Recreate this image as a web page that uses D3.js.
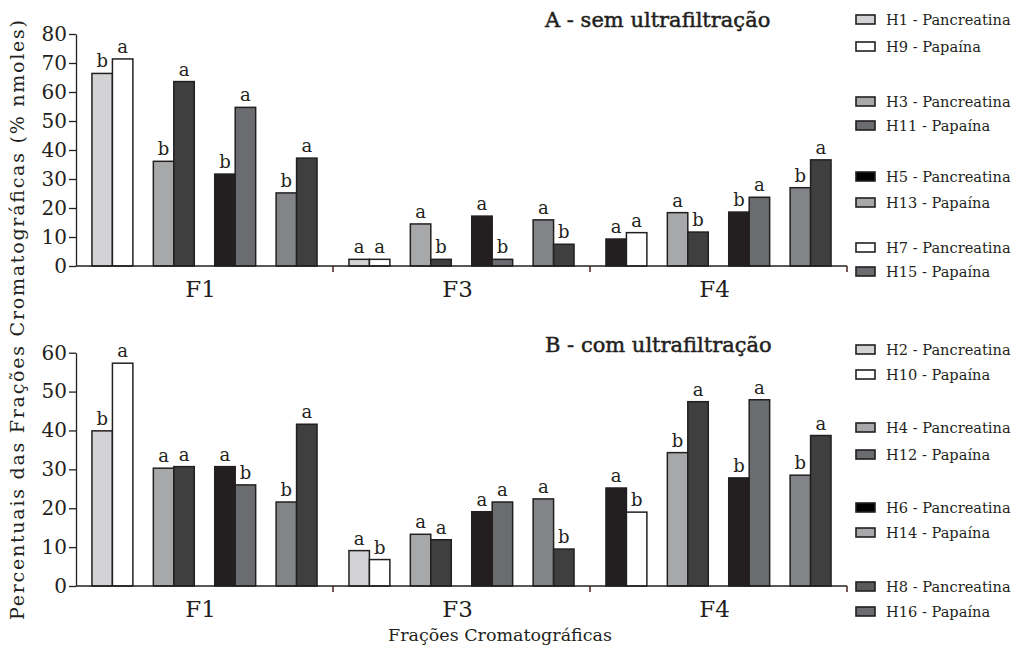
<!DOCTYPE html>
<html>
<head>
<meta charset="utf-8">
<script src="https://cdn.jsdelivr.net/npm/d3@7"></script>
<style>
  body { margin: 0; background: #fff; }
  svg text { font-family: "DejaVu Serif", serif; fill: #231f20; }
</style>
</head>
<body>
<div id="container"></div>
<script>
// width and height
var width = 1011;
var height = 651;

// categories
var fractions = ["F1", "F3", "F4"];

// panel A - sem ultrafiltracao (pairs in order F1 x4, F3 x4, F4 x4)
var aPancreatina = [66.4, 36.1, 31.7, 25.2, 2.3, 14.5, 17.2, 15.9, 9.3, 18.4, 18.6, 27.0];
var aPapaina     = [71.4, 63.6, 54.7, 37.2, 2.3, 2.3, 2.3, 7.5, 11.5, 11.7, 23.7, 36.6];
var aLetPanc     = ["b","b","b","b", "a","a","a","a", "a","a","b","b"];
var aLetPap      = ["a","a","a","a", "a","b","b","b", "a","b","a","a"];

// panel B - com ultrafiltracao
var bPancreatina = [39.9, 30.3, 30.7, 21.6, 9.1, 13.3, 19.1, 22.4, 25.2, 34.3, 27.8, 28.5];
var bPapaina     = [57.3, 30.7, 26.0, 41.6, 6.8, 11.9, 21.6, 9.5, 19.0, 47.4, 47.9, 38.7];
var bLetPanc     = ["b","a","a","b", "a","a","a","a", "a","b","b","b"];
var bLetPap      = ["a","a","b","a", "b","a","a","b", "b","a","a","a"];

// tick labels
var aTicks = [0, 10, 20, 30, 40, 50, 60, 70, 80];
var bTicks = [0, 10, 20, 30, 40, 50, 60];

// legend labels
var aLegend = ["H1 - Pancreatina", "H9 - Papaína", "H3 - Pancreatina", "H11 - Papaína",
               "H5 - Pancreatina", "H13 - Papaína", "H7 - Pancreatina", "H15 - Papaína"];
var bLegend = ["H2 - Pancreatina", "H10 - Papaína", "H4 - Pancreatina", "H12 - Papaína",
               "H6 - Pancreatina", "H14 - Papaína", "H8 - Pancreatina", "H16 - Papaína"];

// bar colours (pancreatina, papaina) per pair position
var pancColors = ["#d3d3d5", "#a7a8aa", "#231f20", "#838487"];
var papColors  = ["#ffffff", "#3f3f40", "#6b6c6f", "#3f3f40"];
var aLegendColors = ["#d3d3d5", "#ffffff", "#a7a8aa", "#6b6c6f", "#000000", "#a7a8aa", "#ffffff", "#6b6c6f"];
var bLegendColors = ["#d3d3d5", "#ffffff", "#a7a8aa", "#6b6c6f", "#000000", "#a7a8aa", "#5a5a5c", "#6b6c6f"];

var svg = d3.select("#container")
            .append("svg")
            .attr("width", width)
            .attr("height", height);

// shared x scales
var x0 = d3.scaleBand()
           .domain(fractions)
           .range([76, 847]);
var x1 = d3.scaleBand()
           .domain([0, 1, 2, 3])
           .range([0, x0.bandwidth()])
           .paddingInner(1/3)
           .paddingOuter(0.26);

function makePanel(opts){
  var y = d3.scaleLinear()
            .domain([0, opts.max])
            .range([opts.bottom, opts.top]);

  var bars = [];
  opts.panc.forEach(function(v, i){
    var g = fractions[Math.floor(i / 4)], p = i % 4;
    // F4 first pair pancreatina drawn black in the original
    var pc = (g === "F4" && p === 0) ? "#231f20" : pancColors[p];
    bars.push({g: g, p: p, k: 0, v: v, l: opts.letPanc[i], c: pc});
    bars.push({g: g, p: p, k: 1, v: opts.pap[i], l: opts.letPap[i], c: papColors[p]});
  });

  var bw = x1.bandwidth() / 2;
  function bx(d){ return x0(d.g) + x1(d.p) + d.k * bw; }

  svg.append("g").selectAll("rect")
     .data(bars)
     .enter().append("rect")
     .attr("x", bx)
     .attr("y", function(d){ return y(d.v); })
     .attr("width", bw)
     .attr("height", function(d){ return y(0) - y(d.v); })
     .attr("fill", function(d){ return d.c; })
     .attr("stroke", "#231f20")
     .attr("stroke-width", 1.5);

  svg.append("g").selectAll("text")
     .data(bars)
     .enter().append("text")
     .attr("x", function(d){ return bx(d) + bw / 2; })
     .attr("y", function(d){ return y(d.v) - 6; })
     .attr("text-anchor", "middle")
     .style("font-size", "18px")
     .text(function(d){ return d.l; });

  // y axis
  var yAxis = svg.append("g")
     .attr("transform", "translate(76,0)")
     .call(d3.axisLeft(y).tickValues(opts.ticks).tickSize(7).tickPadding(2).tickSizeOuter(0));
  yAxis.selectAll("text").style("font-size", "20px").attr("fill", "#231f20");
  yAxis.selectAll("line,path").attr("stroke", "#231f20").attr("stroke-width", 1.3);

  // x axis line with boundary ticks
  svg.append("line")
     .attr("x1", 76).attr("x2", 847)
     .attr("y1", y(0)).attr("y2", y(0))
     .attr("stroke", "#231f20").attr("stroke-width", 1.5);
  svg.append("g").selectAll("line")
     .data(fractions)
     .enter().append("line")
     .attr("x1", function(d){ return x0(d) + x0.bandwidth(); })
     .attr("x2", function(d){ return x0(d) + x0.bandwidth(); })
     .attr("y1", y(0)).attr("y2", y(0) + 6)
     .attr("stroke", "#4a1f1f").attr("stroke-width", 1.5);

  svg.append("g").selectAll("text")
     .data(fractions)
     .enter().append("text")
     .attr("x", function(d){ return x0(d) + x0.bandwidth() / 2 - 4; })
     .attr("y", y(0) + 31)
     .attr("text-anchor", "middle")
     .style("font-size", "23px")
     .text(function(d){ return d; });

  // title
  svg.append("text")
     .attr("x", 545)
     .attr("y", opts.titleY)
     .style("font-size", "21px")
     .style("stroke", "#231f20")
     .style("stroke-width", 0.5)
     .text(opts.title);

  // legend
  var leg = svg.append("g").selectAll("g")
     .data(opts.legend)
     .enter().append("g")
     .attr("transform", function(d, i){
       return "translate(856," + opts.legendY[i] + ")";
     });
  leg.append("rect")
     .attr("x", 0).attr("y", -5)
     .attr("width", 19).attr("height", 9)
     .attr("fill", function(d, i){ return opts.legendColors[i]; })
     .attr("stroke", "#231f20")
     .attr("stroke-width", 1.6);
  leg.append("text")
     .attr("x", 30)
     .attr("y", 5)
     .style("font-size", "14.6px")
     .text(function(d){ return d; });
}

makePanel({
  max: 80, top: 34, bottom: 266, ticks: aTicks,
  panc: aPancreatina, pap: aPapaina, letPanc: aLetPanc, letPap: aLetPap,
  title: "A - sem ultrafiltração", titleY: 27,
  legend: aLegend, legendColors: aLegendColors,
  legendY: [20, 47, 102, 126, 177, 203, 248, 272]
});

makePanel({
  max: 60, top: 352.7, bottom: 586, ticks: bTicks,
  panc: bPancreatina, pap: bPapaina, letPanc: bLetPanc, letPap: bLetPap,
  title: "B - com ultrafiltração", titleY: 352,
  legend: bLegend, legendColors: bLegendColors,
  legendY: [350, 375, 428, 455, 508, 533, 587, 612]
});

// text label for the y axis
svg.append("text")
   .attr("transform", "translate(24,320) rotate(-90)")
   .attr("text-anchor", "middle")
   .attr("textLength", 600)
   .attr("lengthAdjust", "spacing")
   .style("font-size", "19px")
   .text("Percentuais das Frações Cromatográficas (% nmoles)");

// text label for the x axis
svg.append("text")
   .attr("x", 500)
   .attr("y", 641)
   .attr("text-anchor", "middle")
   .style("font-size", "17.5px")
   .text("Frações Cromatográficas");
</script>
</body>
</html>
